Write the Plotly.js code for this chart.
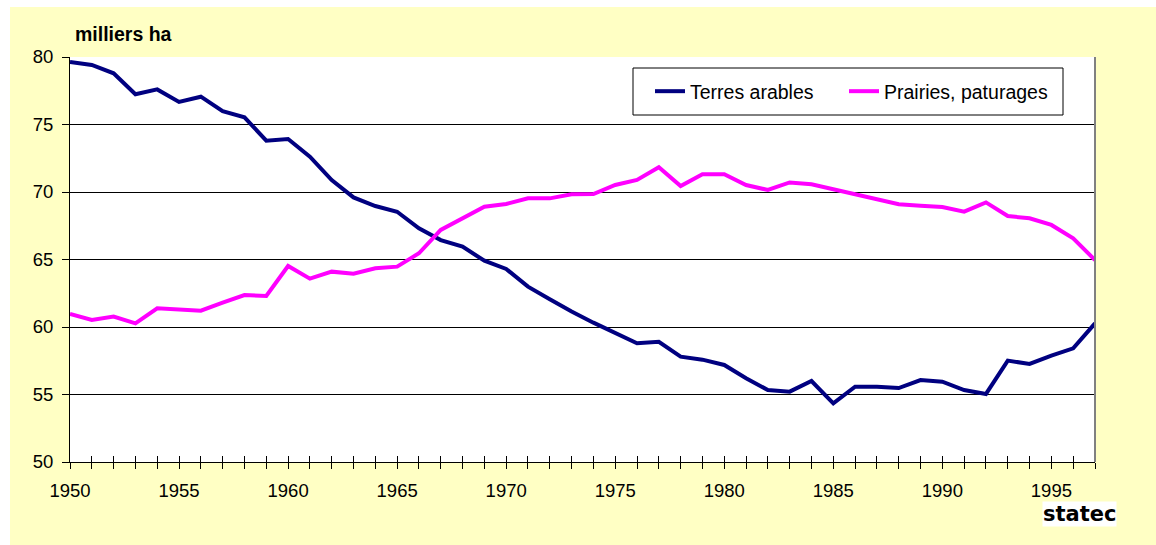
<!DOCTYPE html>
<html>
<head>
<meta charset="utf-8">
<script src="https://cdn.plot.ly/plotly-3.0.1.min.js"></script>
<style>
  html, body { margin: 0; padding: 0; background: #ffffff; width: 1156px; height: 545px; overflow: hidden; }
  #chart { position: absolute; left: 10px; top: 7px; width: 1146px; height: 538px; }
</style>
</head>
<body>
<div id="chart"></div>
<script>
const years = [1950,1951,1952,1953,1954,1955,1956,1957,1958,1959,
               1960,1961,1962,1963,1964,1965,1966,1967,1968,1969,
               1970,1971,1972,1973,1974,1975,1976,1977,1978,1979,
               1980,1981,1982,1983,1984,1985,1986,1987,1988,1989,
               1990,1991,1992,1993,1994,1995,1996,1997];

const terresArables = [79.63,79.41,78.79,77.24,77.60,76.67,77.06,75.98,75.53,73.80,
                       73.93,72.62,70.89,69.60,68.96,68.54,67.31,66.44,65.95,64.91,
                       64.30,62.99,62.05,61.14,60.32,59.53,58.79,58.90,57.80,57.58,
                       57.19,56.20,55.33,55.21,56.00,54.35,55.58,55.58,55.48,56.07,
                       55.95,55.33,55.04,57.51,57.26,57.88,58.42,60.27];

const prairies = [60.96,60.52,60.77,60.27,61.38,61.33,61.21,61.80,62.37,62.30,
                  64.52,63.58,64.10,63.95,64.35,64.47,65.46,67.19,68.05,68.91,
                  69.11,69.53,69.53,69.83,69.85,70.52,70.89,71.83,70.44,71.31,
                  71.31,70.52,70.15,70.71,70.57,70.20,69.83,69.41,69.09,68.99,
                  68.89,68.54,69.23,68.22,68.05,67.56,66.57,64.96];

const seriesNames = ["Terres arables", "Prairies, paturages"];
const yTicks = [50,55,60,65,70,75,80];
const xTickText = years.map(y => (y % 5 === 0 ? String(y) : ""));
const unitLabel = "milliers ha";
const sourceLabel = "statec";

const FONT = "Liberation Sans, Arial, sans-serif";

const traces = [
  { x: years, y: terresArables, name: seriesNames[0], type: "scatter", mode: "lines",
    line: { color: "#000080", width: 4 }, hoverinfo: "skip", legendwidth: 149 },
  { x: years, y: prairies, name: seriesNames[1], type: "scatter", mode: "lines",
    line: { color: "#FF00FF", width: 4 }, hoverinfo: "skip", legendwidth: 175 },
  { x: [years[0]], y: [yTicks[0]], xaxis: "x2", yaxis: "y", mode: "markers",
    marker: { opacity: 0 }, showlegend: false, hoverinfo: "skip" }
];

const layout = {
  width: 1146, height: 538,
  margin: { l: 60, r: 61, t: 50, b: 83 },
  paper_bgcolor: "#FFFFC4",
  plot_bgcolor: "#FFFFFF",
  font: { family: FONT, size: 18, color: "#000000" },
  showlegend: true,
  legend: {
    orientation: "h",
    x: (650 - 70) / 1025, y: (462 - 91.5) / 405, xanchor: "left", yanchor: "middle",
    bgcolor: "rgba(0,0,0,0)", borderwidth: 0,
    font: { family: FONT, size: 19.5, color: "#000000" },
    itemwidth: 30, entrywidthmode: "pixels"
  },
  xaxis: {
    range: [1950, 1997],
    tickmode: "array", tickvals: years, ticktext: xTickText,
    ticks: "outside", ticklen: 6, tickcolor: "#000000", tickwidth: 1,
    ticklabelstandoff: 6,
    showline: true, linecolor: "#000000", linewidth: 1,
    showgrid: false, zeroline: false,
    tickfont: { family: FONT, size: 18.5, color: "#000000" }
  },
  xaxis2: {
    overlaying: "x", matches: "x", range: [1950, 1997],
    tickmode: "array", tickvals: years, showticklabels: false,
    ticks: "inside", ticklen: 6, tickcolor: "#000000", tickwidth: 1,
    showgrid: false, zeroline: false, showline: false, side: "bottom"
  },
  yaxis: {
    range: [50, 80],
    tickmode: "array", tickvals: yTicks,
    ticks: "outside", ticklen: 7, tickcolor: "#000000", tickwidth: 1,
    ticklabelstandoff: 5,
    showline: true, linecolor: "#000000", linewidth: 1,
    showgrid: true, gridcolor: "#000000", gridwidth: 1,
    zeroline: false,
    tickfont: { family: FONT, size: 18.5, color: "#000000" }
  },
  shapes: [
    { type: "line", xref: "paper", yref: "paper", x0: 1, x1: 1, y0: 0, y1: 1,
      line: { color: "#808080", width: 2 } },
    { type: "rect", xref: "paper", yref: "paper", layer: "above",
      x0: (633 - 70) / 1025, x1: (1063 - 70) / 1025,
      y0: (462 - 115) / 405, y1: (462 - 68) / 405,
      fillcolor: "#FFFFFF", line: { color: "#000000", width: 1 } }
  ],
  annotations: [
    { text: "<b>" + unitLabel + "</b>", xref: "paper", yref: "paper",
      x: 0.003, y: 1.057, xanchor: "left", yanchor: "middle", showarrow: false,
      font: { family: FONT, size: 19.5, color: "#000000" } },
    { text: "<b>" + sourceLabel + "</b>", xref: "paper", yref: "paper",
      x: (1079 - 70) / 1025, y: (462 - 514) / 405, xanchor: "center", yanchor: "middle", showarrow: false,
      bgcolor: "#FFFFFF", borderpad: 0,
      font: { family: "DejaVu Sans, sans-serif", size: 21, color: "#000000" } }
  ]
};

Plotly.newPlot("chart", traces, layout, { staticPlot: true, displayModeBar: false });
</script>
</body>
</html>
